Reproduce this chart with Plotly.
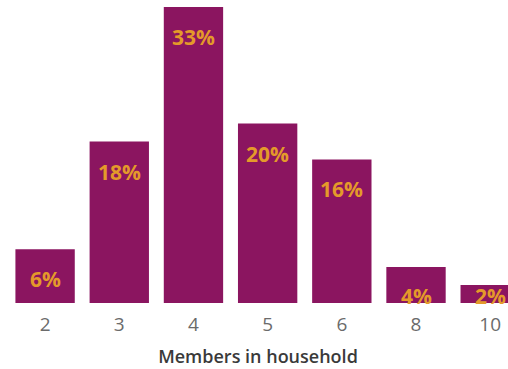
import plotly.graph_objects as go

# Household size distribution
members = ["2", "3", "4", "5", "6", "8", "10"]
share_pct = [6, 18, 33, 20, 16, 4, 2]

BAR_COLOR = "#8B1560"
LABEL_COLOR = "#E49A2A"

Y_MAX = 33
PLOT_H = 369 - 7 - 66          # plot area height in px
PX_PER_UNIT = PLOT_H / Y_MAX

fig = go.Figure(
    go.Bar(
        x=members,
        y=share_pct,
        marker=dict(color=BAR_COLOR, line=dict(width=0)),
        hoverinfo="skip",
    )
)

# percentage labels sit ~30px below each bar top, but never below the baseline area
for i, v in enumerate(share_pct):
    label_y = max(v - 30 / PX_PER_UNIT, 7 / PX_PER_UNIT)
    fig.add_annotation(
        x=i, y=label_y, text=f"<b>{v}%</b>", showarrow=False,
        yanchor="middle", xanchor="center",
        font=dict(family="Open Sans", size=21, color=LABEL_COLOR),
    )

fig.update_layout(
    width=508, height=369,
    margin=dict(l=8, r=0, t=7, b=66),
    paper_bgcolor="white", plot_bgcolor="white",
    bargap=0.2,
    showlegend=False,
    xaxis=dict(
        type="category",
        range=[-0.5, 6.24],
        showgrid=False, showline=False, zeroline=False,
        ticks="", ticklabelstandoff=8,
        tickfont=dict(family="Open Sans", size=19, color="#6b6b6b"),
        title=dict(
            text="Members in household", standoff=14,
            font=dict(family="Open Sans", size=18, color="#3a3a3a", weight=600),
        ),
    ),
    yaxis=dict(
        range=[0, Y_MAX], visible=False, showgrid=False, zeroline=False,
    ),
)

fig.write_html("out.html")
